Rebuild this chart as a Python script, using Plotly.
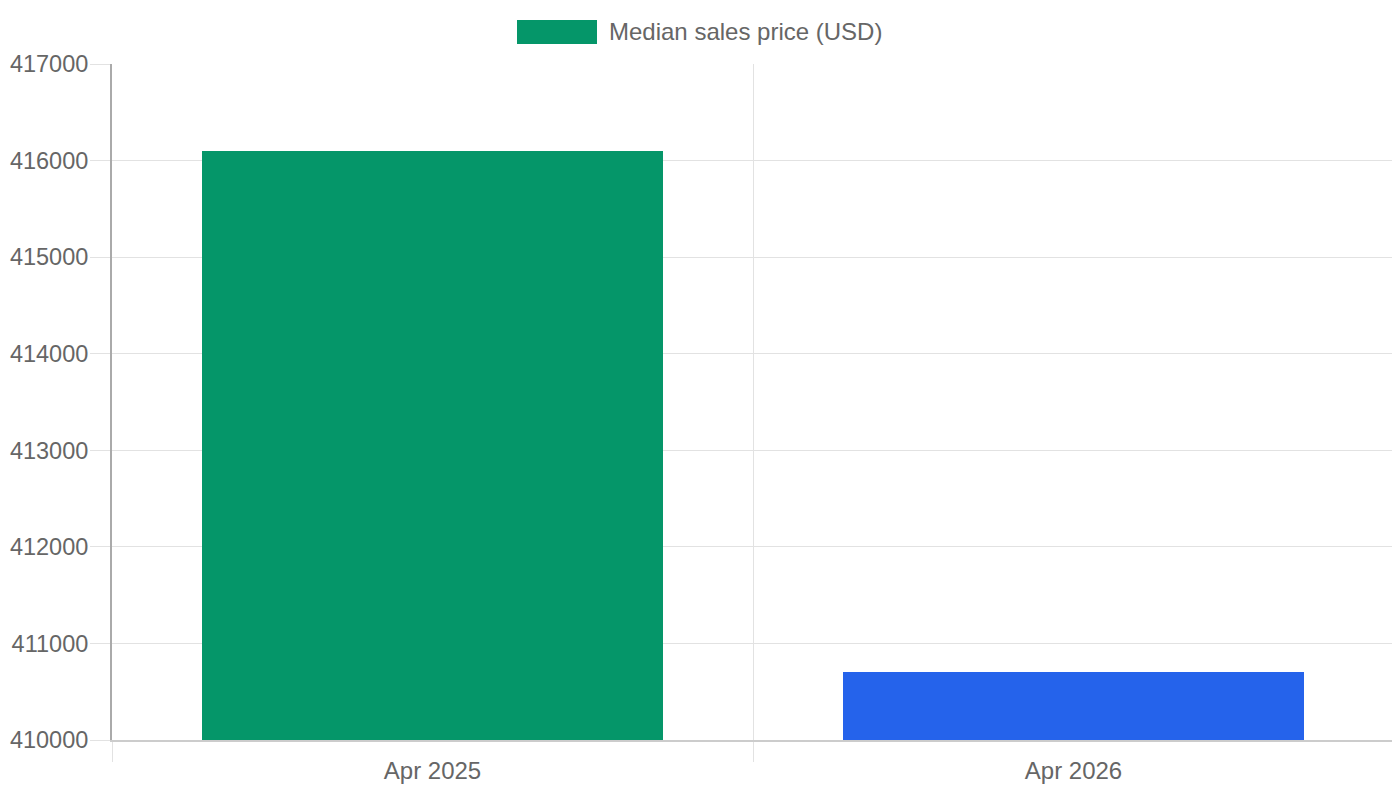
import plotly.graph_objects as go

# data
periods = ["Apr 2025", "Apr 2026"]
median_price = [416100, 410700]
bar_colors = ["#059669", "#2563EB"]
series_name = "Median sales price (USD)"

font_family = "Liberation Sans, Arial, sans-serif"
text_grey = "#666666"
grid_grey = "#e2e2e2"

# the page body adds an 8px margin, so work in figure pixels
offset = 8
fig_w, fig_h = 1400 - offset, 800 - offset

# plot area in screen pixels: x 112..1394, y 64..740
plot_l, plot_r, plot_t, plot_b = 112 - offset, 1394 - offset, 64 - offset, 740 - offset
pw = plot_r - plot_l
ph = plot_b - plot_t

def px_x(p):
    return (p - offset - plot_l) / pw

def px_y(p):
    return (plot_b - (p - offset)) / ph

fig = go.Figure()

fig.add_trace(go.Bar(
    x=periods,
    y=median_price,
    name=series_name,
    marker=dict(color=bar_colors, line=dict(width=0)),
    width=0.72,
    showlegend=False,
))

# legend drawn by hand so the swatch can match the chart.js box
fig.add_shape(
    type="rect", xref="paper", yref="paper",
    x0=px_x(517), x1=px_x(597), y0=px_y(44), y1=px_y(20),
    fillcolor=bar_colors[0], line=dict(width=0),
)
fig.add_annotation(
    xref="paper", yref="paper", x=px_x(607), y=px_y(32),
    xanchor="left", yanchor="middle", showarrow=False,
    text=series_name, font=dict(size=24, color=text_grey, family=font_family),
)

fig.update_layout(
    width=fig_w, height=fig_h,
    margin=dict(l=plot_l, r=fig_w - plot_r, t=plot_t, b=fig_h - plot_b, pad=0),
    paper_bgcolor="white", plot_bgcolor="white",
    font=dict(family=font_family, color=text_grey, size=24),
    hovermode=False,
    bargap=0,
)

fig.update_xaxes(
    type="category",
    tickson="boundaries",
    automargin=False,
    showgrid=True, gridcolor=grid_grey, gridwidth=1,
    ticks="outside", ticklen=20, tickcolor=grid_grey,
    ticklabelstandoff=8,
    showline=True, linecolor="#cccccc", linewidth=2,
    tickfont=dict(size=24, color=text_grey),
    range=[-0.5, 1.5],
    zeroline=False,
)

fig.update_yaxes(
    range=[410000, 417000],
    dtick=1000, tick0=410000,
    tickformat="d",
    automargin=False,
    showgrid=True, gridcolor=grid_grey, gridwidth=1,
    ticks="outside", ticklen=20, tickcolor=grid_grey,
    ticklabelstandoff=-3,
    showline=True, linecolor="#aaaaaa", linewidth=2,
    tickfont=dict(size=23.5, color=text_grey),
    zeroline=False,
)

fig.write_html("out.html")
